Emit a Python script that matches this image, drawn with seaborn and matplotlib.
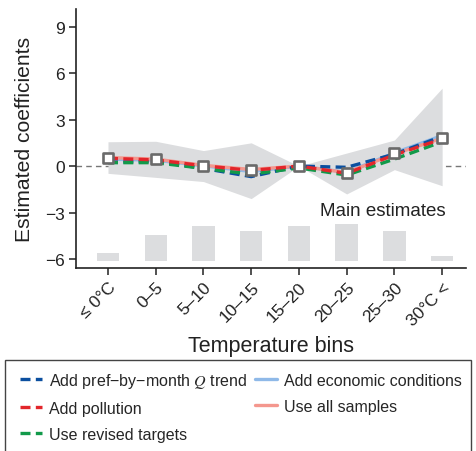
import matplotlib
matplotlib.use("Agg")
import matplotlib.pyplot as plt
from matplotlib.lines import Line2D
from matplotlib.patches import Rectangle
import numpy as np
import pandas as pd
import seaborn as sns

# Temperature bins on the x axis
bins = ["≤ 0°C", "0–5", "5–10", "10–15", "15–20", "20–25", "25–30", "30°C <"]

# Main estimates with their confidence band (15–20 is the reference bin)
main_est = [0.52, 0.43, 0.00, -0.28, 0.00, -0.47, 0.83, 1.83]
ci_low = [-0.47, -0.73, -1.00, -2.10, 0.00, -1.80, -0.23, -1.27]
ci_high = [1.57, 1.60, 1.00, 1.50, 0.00, 0.84, 1.68, 5.03]

# Robustness checks
pref_q_trend = [0.25, 0.30, -0.15, -0.68, 0.00, -0.08, 0.77, 1.92]
pollution = [0.50, 0.40, 0.02, -0.28, 0.00, -0.47, 0.72, 1.75]
revised_targets = [0.22, 0.22, -0.15, -0.52, -0.12, -0.58, 0.45, 1.57]
economic = [0.45, 0.38, 0.02, -0.35, 0.00, -0.40, 0.85, 1.97]
all_samples = [0.55, 0.45, 0.05, -0.22, 0.00, -0.42, 0.78, 1.80]

# Distribution of days across bins (drawn as bars along the bottom)
day_share = [0.52, 1.70, 2.26, 1.94, 2.26, 2.39, 1.94, 0.31]
hist_base = -6.13

sns.set_style("ticks")
plt.rcParams["font.family"] = ["Liberation Sans", "DejaVu Sans"]
plt.rcParams["mathtext.fontset"] = "stix"

fig = plt.figure(figsize=(4.77, 4.52), dpi=100)
ax = fig.add_axes([76 / 477, 1 - 269 / 452, (466 - 76) / 477, (269 - 10) / 452])

x = np.arange(len(bins))
band_color = "#dcdddf"
text_color = "#222222"

ax.axhline(0, color="#777777", lw=1.0, dashes=(4, 3), zorder=0)
ax.fill_between(x, ci_low, ci_high, color=band_color, lw=0, zorder=1)
ax.bar(x, day_share, bottom=hist_base, width=0.47, color=band_color, lw=0, zorder=1)

dash = (3, 1.6)
series = [
    ("Add economic conditions", economic, "#8fb9e8", None),
    ("Use all samples", all_samples, "#f4978e", None),
    ("Add pref\u2212by\u2212month $Q$ trend", pref_q_trend, "#0b4f9f", dash),
    ("Use revised targets", revised_targets, "#129a4a", dash),
    ("Add pollution", pollution, "#e2262b", dash),
]

df = pd.DataFrame({"x": x})
for i, (label, vals, color, ls) in enumerate(series):
    df["y"] = vals
    sns.lineplot(data=df, x="x", y="y", color=color, ax=ax, legend=False,
                 lw=2.4, zorder=3 + i)
    if ls is not None:
        ax.lines[-1].set_dashes(ls)

df["y"] = main_est
sns.scatterplot(data=df, x="x", y="y", marker="s", s=48, facecolor="white",
                edgecolor="#6a6a6a", linewidth=1.9, ax=ax, zorder=10, legend=False)

ax.text(5.76, -2.84, "Main estimates", ha="center", va="center",
        fontsize=13.5, color=text_color)

ax.set_xlim(-0.67, 7.5)
ax.set_ylim(-6.58, 10.14)
ax.set_yticks([-6, -3, 0, 3, 6, 9])
ax.set_xticks(x)
ax.set_xticklabels(bins, rotation=45, ha="right", rotation_mode="anchor")
ax.tick_params(axis="both", labelsize=12.5, length=5, width=1.1, color=text_color,
               labelcolor=text_color, pad=3)
for s in ["top", "right"]:
    ax.spines[s].set_visible(False)
for s in ["left", "bottom"]:
    ax.spines[s].set_linewidth(1.2)
    ax.spines[s].set_color(text_color)

ax.set_xlabel("Temperature bins", fontsize=15.5, color=text_color, labelpad=5)
ax.set_ylabel("Estimated coefficients", fontsize=15.2, color=text_color, labelpad=8)

handles = [
    Line2D([], [], color="#0b4f9f", lw=2.4, dashes=dash),
    Line2D([], [], color="#e2262b", lw=2.4, dashes=dash),
    Line2D([], [], color="#129a4a", lw=2.4, dashes=dash),
    Line2D([], [], color="#8fb9e8", lw=2.4),
    Line2D([], [], color="#f4978e", lw=2.4),
]
labels = [
    "Add pref\u2212by\u2212month $Q$ trend",
    "Add pollution",
    "Use revised targets",
    "Add economic conditions",
    "Use all samples",
]
fig.legend(handles, labels, loc="upper left", bbox_to_anchor=(20 / 477, 1 - 372 / 452),
           ncol=2, frameon=False, fontsize=11.5, handlelength=1.35,
           handletextpad=0.45, labelspacing=0.69, columnspacing=0.5,
           borderaxespad=0, borderpad=0)
fig.add_artist(Rectangle((5.5 / 477, -0.02), (471 - 5.5) / 477, 1 - 360.7 / 452 + 0.02,
                         transform=fig.transFigure, fill=False, lw=1.0,
                         edgecolor="#444444"))

fig.savefig("out.png", dpi=100)
